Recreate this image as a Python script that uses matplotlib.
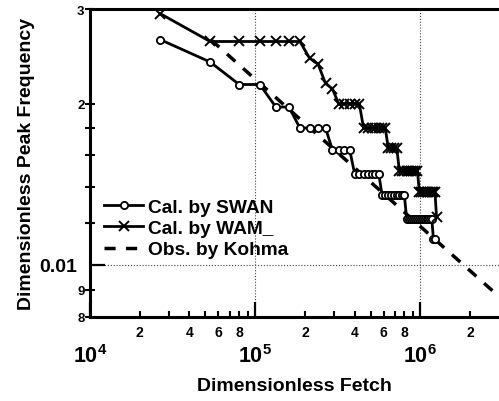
import matplotlib
matplotlib.use('Agg')
import matplotlib.pyplot as plt
from matplotlib.ticker import FixedLocator, FixedFormatter

# grid fetch (x 1e4), one value per computed point
grid_fetch = [2.67, 5.34, 8.01, 10.68, 13.35, 16.02, 18.69, 21.36, 24.03, 26.70,
              29.37, 32.04, 34.71, 37.38, 40.05, 42.72, 45.39, 48.06, 50.73, 53.40,
              56.07, 58.74, 61.41, 64.08, 66.75, 69.42, 72.09, 74.76, 77.43, 80.10,
              82.77, 85.44, 88.11, 90.78, 93.45, 96.12, 98.79, 101.46, 104.13, 106.80,
              109.47, 112.14, 114.81, 117.48, 120.15, 122.82, 125.49]

swan_freq = [0.0263, 0.0239, 0.0217, 0.0217, 0.0197, 0.0197,
             0.0180, 0.0180, 0.0180, 0.0180,
             0.0164, 0.0164, 0.0164, 0.0164,
             0.0148, 0.0148, 0.0148, 0.0148, 0.0148, 0.0148, 0.0148,
             0.0135, 0.0135, 0.0135, 0.0135, 0.0135, 0.0135, 0.0135, 0.0135, 0.0135,
             0.0122, 0.0122, 0.0122, 0.0122, 0.0122, 0.0122, 0.0122,
             0.0122, 0.0122, 0.0122, 0.0122, 0.0122, 0.0122, 0.0122,
             0.0112, 0.0112]

wam_freq = [0.0294,
            0.0261, 0.0261, 0.0261, 0.0261, 0.0261, 0.0261,
            0.0243, 0.0237, 0.0218, 0.0213,
            0.0200, 0.0200, 0.0200, 0.0200, 0.0200,
            0.0180, 0.0180, 0.0180, 0.0180, 0.0180, 0.0180, 0.0180,
            0.0165, 0.0165, 0.0165, 0.0165,
            0.0150, 0.0150, 0.0150, 0.0150, 0.0150, 0.0150, 0.0150, 0.0150, 0.0150,
            0.0137, 0.0137, 0.0137, 0.0137, 0.0137,
            0.0137, 0.0137, 0.0137, 0.0137, 0.0137,
            0.0123]

kohma_fetch = [5.4e4, 3.2e6]
kohma_freq = [0.0263, 0.00858]

labels = ['Cal. by SWAN', 'Cal. by WAM_', 'Obs. by Kohma']

x_major = [1e4, 1e5, 1e6]
x_major_labels = [r'$\mathbf{10^{4}}$', r'$\mathbf{10^{5}}$', r'$\mathbf{10^{6}}$']
x_minor = [2e4, 3e4, 4e4, 5e4, 6e4, 7e4, 8e4, 9e4,
           2e5, 3e5, 4e5, 5e5, 6e5, 7e5, 8e5, 9e5, 2e6]
x_minor_labels = ['2', '', '4', '', '6', '', '8', '',
                  '2', '', '4', '', '6', '', '8', '', '2']
y_major = [0.01]
y_major_labels = ['0.01']
y_minor = [0.008, 0.009, 0.012, 0.014, 0.016, 0.018, 0.02, 0.03]
y_minor_labels = ['8', '9', '', '', '', '', '2', '3']

plt.rcParams['font.family'] = ['Liberation Sans', 'DejaVu Sans']
plt.rcParams['font.weight'] = 'bold'
plt.rcParams['mathtext.fontset'] = 'custom'
plt.rcParams['mathtext.rm'] = 'Liberation Sans:bold'
plt.rcParams['mathtext.bf'] = 'Liberation Sans:bold'

fig = plt.figure(figsize=(4.99, 4.02), dpi=100)
ax = fig.add_axes([0.1804, 0.209, 0.8196, 0.766])
ax.set_xscale('log')
ax.set_yscale('log')

swan_fetch = [f * 1e4 for f in grid_fetch[:len(swan_freq)]]
wam_fetch = [f * 1e4 for f in grid_fetch[:len(wam_freq)]]

ax.plot(swan_fetch, swan_freq, '-o', color='k', lw=2.0, ms=5.2,
        mfc='white', mec='k', mew=1.3, label=labels[0], zorder=3)
ax.plot(wam_fetch, wam_freq, '-x', color='k', lw=2.0, ms=7.5,
        mew=1.4, label=labels[1], zorder=3)
ax.plot(kohma_fetch, kohma_freq, color='k', lw=2.5, dashes=(3.2, 3),
        label=labels[2], zorder=2)

ax.set_xlim(1e4, 3e6)
ax.set_ylim(0.008, 0.03)

ax.xaxis.set_major_locator(FixedLocator(x_major))
ax.xaxis.set_major_formatter(FixedFormatter(x_major_labels))
ax.xaxis.set_minor_locator(FixedLocator(x_minor))
ax.xaxis.set_minor_formatter(FixedFormatter(x_minor_labels))
ax.yaxis.set_major_locator(FixedLocator(y_major))
ax.yaxis.set_major_formatter(FixedFormatter(y_major_labels))
ax.yaxis.set_minor_locator(FixedLocator(y_minor))
ax.yaxis.set_minor_formatter(FixedFormatter(y_minor_labels))

ax.tick_params(axis='x', which='major', direction='in', length=11, width=1.6,
               pad=19.5, labelsize=15.5)
ax.tick_params(axis='x', which='minor', direction='in', length=4.5, width=1.5,
               pad=5.5, labelsize=10)
ax.tick_params(axis='y', which='major', direction='in', length=11, width=1.6,
               pad=9, labelsize=14)
ax.tick_params(axis='y', which='minor', direction='inout', length=7, width=1.5,
               pad=0.5, labelsize=9.5)

ax.grid(True, which='major', color='0.25', lw=0.8, dashes=(1, 1.6))

for side in ['left', 'bottom', 'top']:
    ax.spines[side].set_linewidth(2.2)
ax.spines['right'].set_visible(False)

ax.set_xlabel('Dimensionless Fetch', fontsize=14, fontweight='bold', labelpad=7)
ax.set_ylabel('Dimensionless Peak Frequency', fontsize=14, fontweight='bold',
              labelpad=3)

ax.legend(loc='upper left', bbox_to_anchor=(0.035, 0.385), frameon=False,
          prop={'size': 13.8, 'weight': 'bold'}, handlelength=2.0,
          handletextpad=0.3, labelspacing=0.2,
          borderaxespad=0, borderpad=0, numpoints=1)

fig.savefig('out.png', dpi=100)
